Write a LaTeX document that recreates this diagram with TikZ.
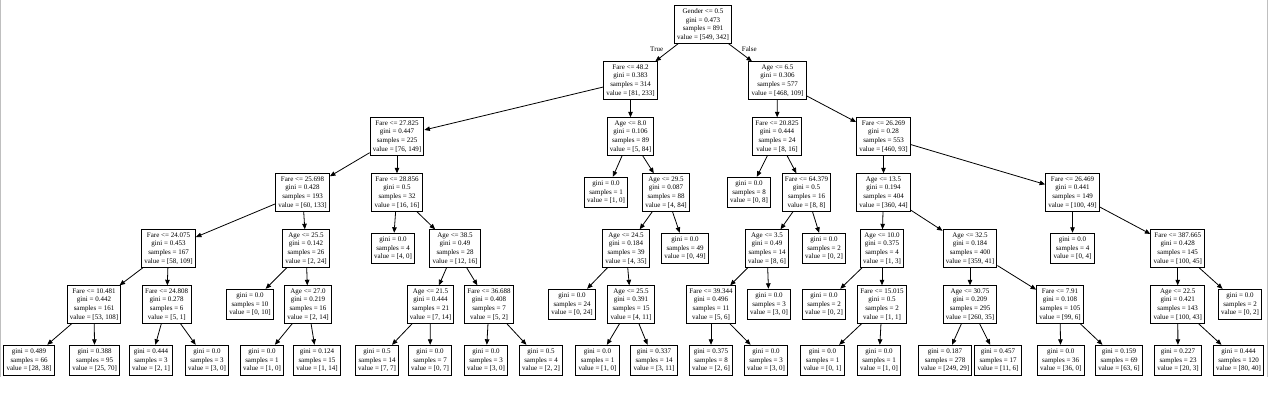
\documentclass[tikz,border=0pt]{standalone}
\usepackage{fontspec}
\setmainfont{Liberation Serif}
\usetikzlibrary{arrows.meta}
\begin{document}
\begin{tikzpicture}[x=1pt,y=-1pt,
  box/.style={draw=black, line width=0.9pt, fill=white, align=center,
    font=\fontsize{7}{8.6}\selectfont, inner xsep=2.8pt, inner ysep=2pt, minimum width=42pt},
  split/.style={box, minimum height=37.5pt},
  leaf/.style={box, minimum height=30.5pt},
  edge/.style={-{Triangle[length=5.5pt,width=4.5pt]}, line width=0.8pt, black},
  lbl/.style={font=\fontsize{7}{8.6}\selectfont, inner sep=0pt},
  frame/.style={draw=black!25, line width=1pt}]
\useasboundingbox (0,0) rectangle (1269,401);
% level 0
\node[split] (n0) at (703,24.5) {Gender <= 0.5\\gini = 0.473\\samples = 891\\value = [549, 342]};
% level 1
\node[split] (n1) at (630.5,80.5) {Fare <= 48.2\\gini = 0.383\\samples = 314\\value = [81, 233]};
\node[split] (n2) at (777.5,80.5) {Age <= 6.5\\gini = 0.306\\samples = 577\\value = [468, 109]};
% level 2
\node[split] (n3) at (397,136.5) {Fare <= 27.825\\gini = 0.447\\samples = 225\\value = [76, 149]};
\node[split] (n4) at (630.5,136.5) {Age <= 8.0\\gini = 0.106\\samples = 89\\value = [5, 84]};
\node[split] (n5) at (777,136.5) {Fare <= 20.825\\gini = 0.444\\samples = 24\\value = [8, 16]};
\node[split] (n6) at (883.5,136.5) {Fare <= 26.269\\gini = 0.28\\samples = 553\\value = [460, 93]};
% level 3
\node[split] (n7) at (302.5,192.5) {Fare <= 25.698\\gini = 0.428\\samples = 193\\value = [60, 133]};
\node[split] (n8) at (397,192.5) {Fare <= 28.856\\gini = 0.5\\samples = 32\\value = [16, 16]};
\node[leaf] (n9) at (606,192.5) {gini = 0.0\\samples = 1\\value = [1, 0]};
\node[split] (n10) at (666,192.5) {Age <= 29.5\\gini = 0.087\\samples = 88\\value = [4, 84]};
\node[leaf] (n11) at (749,192.5) {gini = 0.0\\samples = 8\\value = [0, 8]};
\node[split] (n12) at (806.5,192.5) {Fare <= 64.379\\gini = 0.5\\samples = 16\\value = [8, 8]};
\node[split] (n13) at (883.5,192.5) {Age <= 13.5\\gini = 0.194\\samples = 404\\value = [360, 44]};
\node[split] (n14) at (1072.5,192.5) {Fare <= 26.469\\gini = 0.441\\samples = 149\\value = [100, 49]};
% level 4
\node[split] (n15) at (168.5,248.5) {Fare <= 24.075\\gini = 0.453\\samples = 167\\value = [58, 109]};
\node[split] (n16) at (306,248.5) {Age <= 25.5\\gini = 0.142\\samples = 26\\value = [2, 24]};
\node[leaf] (n17) at (393,248.5) {gini = 0.0\\samples = 4\\value = [4, 0]};
\node[split] (n18) at (455,248.5) {Age <= 38.5\\gini = 0.49\\samples = 28\\value = [12, 16]};
\node[split] (n19) at (626,248.5) {Age <= 24.5\\gini = 0.184\\samples = 39\\value = [4, 35]};
\node[leaf] (n20) at (685,248.5) {gini = 0.0\\samples = 49\\value = [0, 49]};
\node[split] (n21) at (767,248.5) {Age <= 3.5\\gini = 0.49\\samples = 14\\value = [8, 6]};
\node[leaf] (n22) at (824,248.5) {gini = 0.0\\samples = 2\\value = [0, 2]};
\node[split] (n23) at (882,248.5) {Age <= 10.0\\gini = 0.375\\samples = 4\\value = [1, 3]};
\node[split] (n24) at (970,248.5) {Age <= 32.5\\gini = 0.184\\samples = 400\\value = [359, 41]};
\node[leaf] (n25) at (1072.5,248.5) {gini = 0.0\\samples = 4\\value = [0, 4]};
\node[split] (n26) at (1177.7,248.5) {Fare <= 387.665\\gini = 0.428\\samples = 145\\value = [100, 45]};
% level 5
\node[split] (n27) at (94,304.5) {Fare <= 10.481\\gini = 0.442\\samples = 161\\value = [53, 108]};
\node[split] (n28) at (166.7,304.5) {Fare <= 24.808\\gini = 0.278\\samples = 6\\value = [5, 1]};
\node[leaf] (n29) at (250,304.5) {gini = 0.0\\samples = 10\\value = [0, 10]};
\node[split] (n30) at (308,304.5) {Age <= 27.0\\gini = 0.219\\samples = 16\\value = [2, 14]};
\node[split] (n31) at (430.5,304.5) {Age <= 21.5\\gini = 0.444\\samples = 21\\value = [7, 14]};
\node[split] (n32) at (489,304.5) {Fare <= 36.688\\gini = 0.408\\samples = 7\\value = [5, 2]};
\node[leaf] (n33) at (572,304.5) {gini = 0.0\\samples = 24\\value = [0, 24]};
\node[split] (n34) at (631,304.5) {Age <= 25.5\\gini = 0.391\\samples = 15\\value = [4, 11]};
\node[split] (n35) at (711,304.5) {Fare <= 39.344\\gini = 0.496\\samples = 11\\value = [5, 6]};
\node[leaf] (n36) at (769,304.5) {gini = 0.0\\samples = 3\\value = [3, 0]};
\node[leaf] (n37) at (824,304.5) {gini = 0.0\\samples = 2\\value = [0, 2]};
\node[split] (n38) at (882,304.5) {Fare <= 15.015\\gini = 0.5\\samples = 2\\value = [1, 1]};
\node[split] (n39) at (970,304.5) {Age <= 30.75\\gini = 0.209\\samples = 295\\value = [260, 35]};
\node[split] (n40) at (1060,304.5) {Fare <= 7.91\\gini = 0.108\\samples = 105\\value = [99, 6]};
\node[split] (n41) at (1177.7,304.5) {Age <= 22.5\\gini = 0.421\\samples = 143\\value = [100, 43]};
\node[leaf] (n42) at (1240,304.5) {gini = 0.0\\samples = 2\\value = [0, 2]};
% level 6
\node[leaf] (n43) at (29,360.5) {gini = 0.489\\samples = 66\\value = [28, 38]};
\node[leaf] (n44) at (94.7,360.5) {gini = 0.388\\samples = 95\\value = [25, 70]};
\node[leaf] (n45) at (151,360.5) {gini = 0.444\\samples = 3\\value = [2, 1]};
\node[leaf] (n46) at (207,360.5) {gini = 0.0\\samples = 3\\value = [3, 0]};
\node[leaf] (n47) at (262,360.5) {gini = 0.0\\samples = 1\\value = [1, 0]};
\node[leaf] (n48) at (317,360.5) {gini = 0.124\\samples = 15\\value = [1, 14]};
\node[leaf] (n49) at (377,360.5) {gini = 0.5\\samples = 14\\value = [7, 7]};
\node[leaf] (n50) at (430,360.5) {gini = 0.0\\samples = 7\\value = [0, 7]};
\node[leaf] (n51) at (486,360.5) {gini = 0.0\\samples = 3\\value = [3, 0]};
\node[leaf] (n52) at (541,360.5) {gini = 0.5\\samples = 4\\value = [2, 2]};
\node[leaf] (n53) at (597.5,360.5) {gini = 0.0\\samples = 1\\value = [1, 0]};
\node[leaf] (n54) at (654,360.5) {gini = 0.337\\samples = 14\\value = [3, 11]};
\node[leaf] (n55) at (711,360.5) {gini = 0.375\\samples = 8\\value = [2, 6]};
\node[leaf] (n56) at (766,360.5) {gini = 0.0\\samples = 3\\value = [3, 0]};
\node[leaf] (n57) at (822.5,360.5) {gini = 0.0\\samples = 1\\value = [0, 1]};
\node[leaf] (n58) at (879,360.5) {gini = 0.0\\samples = 1\\value = [1, 0]};
\node[leaf] (n59) at (945,360.5) {gini = 0.187\\samples = 278\\value = [249, 29]};
\node[leaf] (n60) at (998,360.5) {gini = 0.457\\samples = 17\\value = [11, 6]};
\node[leaf] (n61) at (1060.7,360.5) {gini = 0.0\\samples = 36\\value = [36, 0]};
\node[leaf] (n62) at (1119,360.5) {gini = 0.159\\samples = 69\\value = [63, 6]};
\node[leaf] (n63) at (1178,360.5) {gini = 0.227\\samples = 23\\value = [20, 3]};
\node[leaf] (n64) at (1238.5,360.5) {gini = 0.444\\samples = 120\\value = [80, 40]};
% edge labels
\node[lbl] (lt) at (656.7,49) {True};
\node[lbl] (lf) at (749.3,49) {False};
% edges
\foreach \p/\c in {n0/n1,n0/n2,n1/n3,n1/n4,n2/n5,n2/n6,
  n3/n7,n3/n8,n4/n9,n4/n10,n5/n11,n5/n12,n6/n13,n6/n14,
  n7/n15,n7/n16,n8/n17,n8/n18,n10/n19,n10/n20,n12/n21,n12/n22,n13/n23,n13/n24,n14/n25,n14/n26,
  n15/n27,n15/n28,n16/n29,n16/n30,n18/n31,n18/n32,n19/n33,n19/n34,n21/n35,n21/n36,n23/n37,n23/n38,n24/n39,n24/n40,n26/n41,n26/n42,
  n27/n43,n27/n44,n28/n45,n28/n46,n30/n47,n30/n48,n31/n49,n31/n50,n32/n51,n32/n52,n34/n53,n34/n54,n35/n55,n35/n56,n38/n57,n38/n58,n39/n59,n39/n60,n40/n61,n40/n62,n41/n63,n41/n64}
  {\draw[edge] (\p) -- (\c);}
% side frame lines
\coordinate (fl1) at (0.5,0);
\coordinate (fl2) at (0.5,377);
\coordinate (fr1) at (1267.5,0);
\coordinate (fr2) at (1267.5,377);
\draw[frame] (fl1) -- (fl2);
\draw[frame] (fr1) -- (fr2);
\end{tikzpicture}
\end{document}
